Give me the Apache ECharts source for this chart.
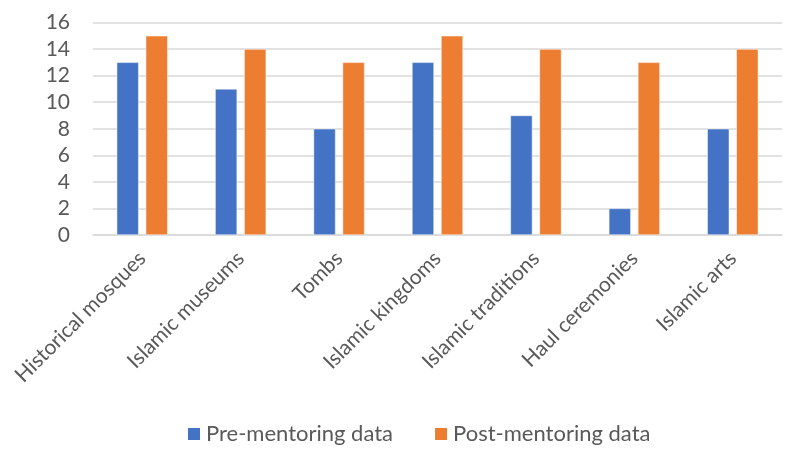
<!DOCTYPE html>
<html><head><meta charset="utf-8">
<script src="https://cdn.jsdelivr.net/npm/echarts@6/dist/echarts.min.js"></script>
<style>html,body{margin:0;padding:0;background:#fff}#c{width:793px;height:452px}</style>
</head><body><div id="c"></div>
<script>
const categories = ["Historical mosques","Islamic museums","Tombs","Islamic kingdoms","Islamic traditions","Haul ceremonies","Islamic arts"];
const preData = [13, 11, 8, 13, 9, 2, 8];
const postData = [15, 14, 13, 15, 14, 13, 14];
const seriesNames = ["Pre-mentoring data","Post-mentoring data"];
const chart = echarts.init(document.getElementById('c'));
const font = 'Lato, "Open Sans", sans-serif';
chart.setOption({
  animation:false,
  grid:{left:93,right:11,top:22.5,bottom:217,containLabel:false},
  legend:{bottom:2,left:181,itemWidth:14,itemHeight:14,itemGap:40,icon:'rect',
    textStyle:{color:'#595959',fontSize:22,fontFamily:font},data:seriesNames},
  xAxis:{type:'category',data:categories,
    axisLine:{lineStyle:{color:'#d9d9d9',width:1.5}},axisTick:{show:false},
    axisLabel:{rotate:45,color:'#595959',fontSize:21,fontFamily:font,margin:20,interval:0}},
  yAxis:{type:'value',min:0,max:16,interval:2,
    axisLine:{show:false},axisTick:{show:false},
    splitLine:{lineStyle:{color:'#d9d9d9',width:1.5}},
    axisLabel:{color:'#595959',fontSize:21,fontFamily:font,margin:23}},
  series:[
    {name:seriesNames[0],type:'bar',data:preData,barWidth:22,barGap:'32%',
      itemStyle:{color:'#4472C4',borderColor:'#fff',borderWidth:0.5}},
    {name:seriesNames[1],type:'bar',data:postData,barWidth:22,
      itemStyle:{color:'#ED7D31',borderColor:'#fff',borderWidth:0.5}}
  ]
});
</script></body></html>
